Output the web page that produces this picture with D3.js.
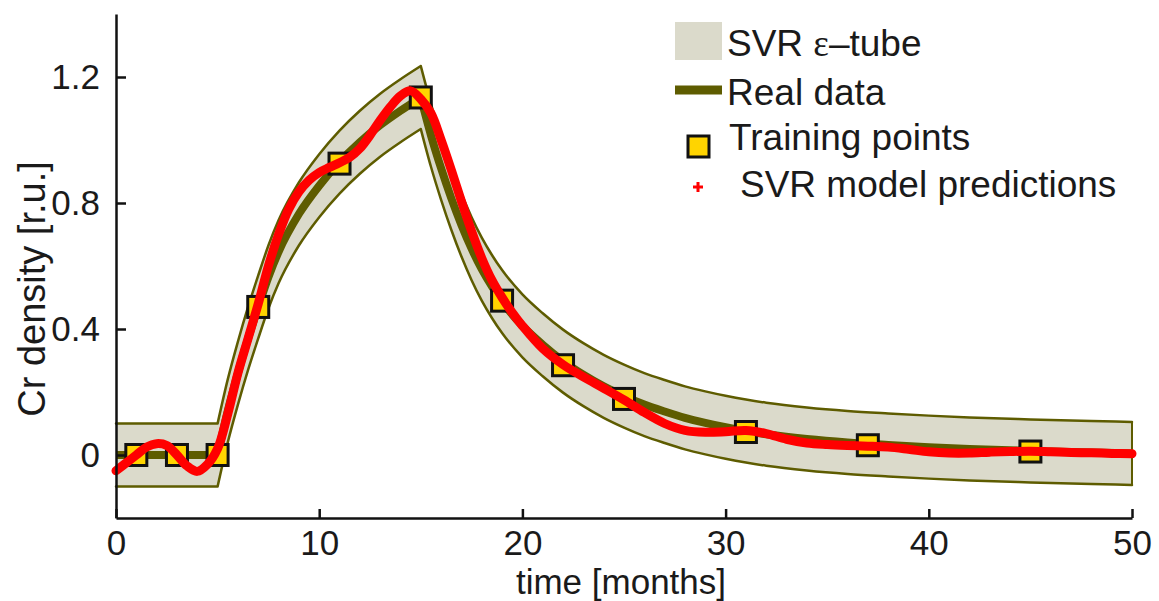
<!DOCTYPE html>
<html>
<head>
<meta charset="utf-8">
<script src="https://cdn.jsdelivr.net/npm/d3@7"></script>
<style>
  body { margin: 0; background: #fff; }
  text { font-family: "Liberation Sans", Arial, Helvetica, sans-serif; fill: #1a1a1a; }
</style>
</head>
<body>
<div id="chart"></div>
<script>
const width = 1159;
const height = 601;

// real data (months, Cr density)
const realT = [0, 1, 2, 3, 4, 5, 5.5, 6, 6.5, 7, 7.5, 8, 9, 10, 11, 12, 13, 14, 15,
  15.5, 16, 16.5, 17, 17.5, 18, 18.5, 19, 20, 21, 22, 23, 24, 25, 26, 27, 28, 29, 30,
  31, 32, 34, 36, 38, 40, 42, 45, 48, 50];
const realV = [0, 0, 0, 0, 0, 0, 0.14, 0.26, 0.37, 0.47, 0.565, 0.645, 0.765, 0.855, 0.93, 0.993, 1.047, 1.093, 1.135,
  1.015, 0.91, 0.815, 0.73, 0.655, 0.59, 0.535, 0.487, 0.41, 0.35, 0.298, 0.255, 0.218, 0.187, 0.16, 0.138, 0.118, 0.102, 0.088,
  0.076, 0.066, 0.051, 0.04, 0.032, 0.025, 0.019, 0.013, 0.008, 0.005];
const corners = [5, 15];
const epsilon = 0.1;

// training points
const trainT = [1, 3, 5, 7, 11, 15, 19, 22, 25, 31, 37, 45];
const trainV = [0, 0, 0, 0.47, 0.925, 1.135, 0.49, 0.285, 0.178, 0.073, 0.031, 0.011];

// SVR model predictions
const svrT = [0, 0.5, 1, 1.5, 2, 2.5, 3, 3.5, 4, 4.5, 5, 5.5, 6, 6.5, 7, 7.5, 8, 8.5, 9, 9.5,
  10, 10.5, 11, 11.5, 12, 12.5, 13, 13.5, 14, 14.5, 15, 15.5, 16, 16.5, 17, 17.5, 18, 18.5, 19, 19.5,
  20, 21, 22, 23, 24, 25, 26, 27, 28, 29, 30, 31, 32, 33, 34, 35, 36, 37, 38, 39,
  40, 41, 42, 43, 44, 45, 46, 47, 48, 49, 50];
const svrV = [-0.05, -0.025, 0.0, 0.025, 0.036, 0.03, 0.0, -0.035, -0.052, -0.03, 0.02, 0.13, 0.26, 0.37, 0.48, 0.6, 0.7, 0.78, 0.835, 0.872,
  0.897, 0.913, 0.928, 0.945, 0.973, 1.015, 1.062, 1.105, 1.14, 1.156, 1.13, 1.085, 1.0, 0.905, 0.805, 0.71, 0.625, 0.555, 0.5, 0.452,
  0.41, 0.338, 0.287, 0.248, 0.212, 0.175, 0.135, 0.1, 0.078, 0.072, 0.074, 0.078, 0.068, 0.05, 0.038, 0.033, 0.03, 0.028, 0.025, 0.018,
  0.01, 0.006, 0.006, 0.009, 0.011, 0.012, 0.01, 0.008, 0.007, 0.005, 0.004];

const xTicks = [0, 10, 20, 30, 40, 50];
const yTicks = [0, 0.4, 0.8, 1.2];
const legendLabels = ["SVR ", "Real data", "Training points", "SVR model predictions"];

const olive = "#5e5c00";
const tubeFill = "#dbdacb";

let x = d3.scaleLinear().domain([0, 50]).range([116, 1132]);
let y = d3.scaleLinear().domain([-0.2, 1.4]).range([518, 14]);

let svg = d3.select("#chart")
  .append("svg")
  .attr("width", width)
  .attr("height", height)
  .attr("viewBox", [0, 0, width, height]);

const real = realT.map((t, i) => ({ t: t, v: realV[i] }));
const bounds = [0].concat(corners, [50]);
const pieces = d3.pairs(bounds).map(([a, b]) => real.filter(d => d.t >= a && d.t <= b));

const tubeArea = d3.area()
  .curve(d3.curveMonotoneX)
  .x(d => x(d.t))
  .y0(d => y(d.v - epsilon))
  .y1(d => y(d.v + epsilon));
const lineAt = off => d3.line()
  .curve(d3.curveMonotoneX)
  .x(d => x(d.t))
  .y(d => y(d.v + off));

// epsilon tube
svg.append("path")
  .attr("fill", tubeFill)
  .attr("d", pieces.map(p => tubeArea(p)).join(""));

svg.append("path")
  .attr("fill", "none")
  .attr("stroke", olive)
  .attr("stroke-width", 2.5)
  .attr("stroke-linejoin", "round")
  .attr("stroke-linecap", "round")
  .attr("d", pieces.map(p => lineAt(epsilon)(p)).join("") + pieces.map(p => lineAt(-epsilon)(p)).join(""));

svg.append("line")
  .attr("stroke", olive)
  .attr("stroke-width", 2)
  .attr("x1", x(50)).attr("x2", x(50))
  .attr("y1", y(realV[realV.length - 1] + epsilon))
  .attr("y2", y(realV[realV.length - 1] - epsilon));

// real data
svg.append("path")
  .attr("fill", "none")
  .attr("stroke", olive)
  .attr("stroke-width", 8)
  .attr("stroke-linejoin", "round")
  .attr("d", pieces.map(p => lineAt(0)(p)).join(""));

// training points
svg.append("g")
  .selectAll("rect")
  .data(trainT.map((t, i) => ({ t: t, v: trainV[i] })))
  .join("rect")
    .attr("x", d => x(d.t) - 10.5)
    .attr("y", d => y(d.v) - 10.5)
    .attr("width", 21)
    .attr("height", 21)
    .attr("fill", "#ffd400")
    .attr("stroke", "#111")
    .attr("stroke-width", 3);

// SVR predictions
svg.append("path")
  .datum(svrT.map((t, i) => ({ t: t, v: svrV[i] })))
  .attr("fill", "none")
  .attr("stroke", "#ff0000")
  .attr("stroke-width", 9)
  .attr("stroke-linecap", "round")
  .attr("stroke-linejoin", "round")
  .attr("d", d3.line().curve(d3.curveCatmullRom.alpha(0.5)).x(d => x(d.t)).y(d => y(d.v)));

// axes
let xAxis = svg.append("g")
  .attr("transform", `translate(0,${y(-0.2)})`)
  .call(d3.axisBottom(x).tickValues(xTicks).tickSizeInner(-9).tickSizeOuter(0).tickPadding(12));
let yAxis = svg.append("g")
  .attr("transform", `translate(${x(0)},0)`)
  .call(d3.axisLeft(y).tickValues(yTicks).tickSizeInner(-10).tickSizeOuter(0).tickPadding(16)
    .tickFormat(d => d === 0 ? "0" : d.toFixed(1)));

svg.selectAll(".domain, .tick line")
  .attr("stroke", "#111")
  .attr("stroke-width", 2.5);
svg.selectAll(".tick text")
  .attr("font-size", 35)
  .attr("font-family", null)
  .attr("fill", "#1a1a1a");

svg.append("text")
  .attr("x", 621)
  .attr("y", 594)
  .attr("text-anchor", "middle")
  .attr("font-size", 35)
  .text("time [months]");

svg.append("text")
  .attr("transform", "translate(45,289) rotate(-90)")
  .attr("text-anchor", "middle")
  .attr("font-size", 38)
  .text("Cr density [r.u.]");

// legend
let legend = svg.append("g");
legend.append("rect")
  .attr("x", 675).attr("y", 22)
  .attr("width", 47).attr("height", 38)
  .attr("fill", tubeFill);
legend.append("line")
  .attr("x1", 675).attr("x2", 722)
  .attr("y1", 90).attr("y2", 90)
  .attr("stroke", olive)
  .attr("stroke-width", 9);
legend.append("rect")
  .attr("x", 688).attr("y", 136)
  .attr("width", 21).attr("height", 21)
  .attr("fill", "#ffd400")
  .attr("stroke", "#111")
  .attr("stroke-width", 3);
legend.append("path")
  .attr("d", "M693,187H703M698,182V192")
  .attr("stroke", "#ff0000")
  .attr("stroke-width", 3);

let t0 = legend.append("text")
  .attr("x", 727).attr("y", 56)
  .attr("font-size", 37)
  .text(legendLabels[0]);
t0.append("tspan")
  .attr("font-family", "'Liberation Serif', 'DejaVu Serif', serif")
  .text("ε");
t0.append("tspan").text("–tube");

legend.append("text")
  .attr("x", 727).attr("y", 105)
  .attr("font-size", 37)
  .text(legendLabels[1]);
legend.append("text")
  .attr("x", 729).attr("y", 150)
  .attr("font-size", 37)
  .text(legendLabels[2]);
legend.append("text")
  .attr("x", 740).attr("y", 197)
  .attr("font-size", 37)
  .text(legendLabels[3]);
</script>
</body>
</html>
